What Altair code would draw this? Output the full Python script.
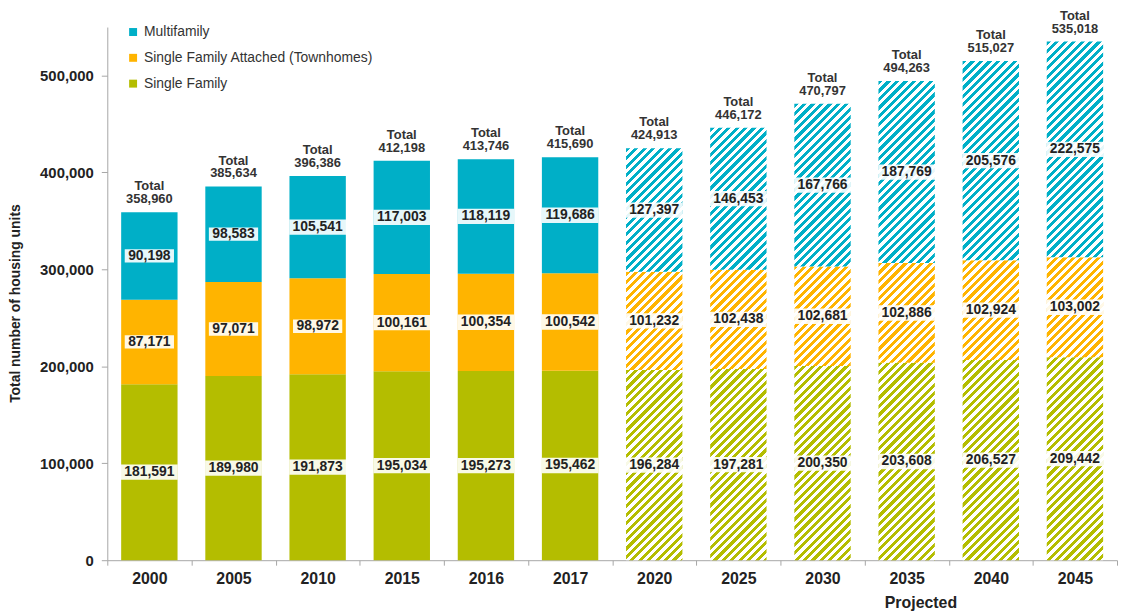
import math
import altair as alt
import pandas as pd

# ---------------- data ----------------
years = ['2000', '2005', '2010', '2015', '2016', '2017',
         '2020', '2025', '2030', '2035', '2040', '2045']
single_family = [181591, 189980, 191873, 195034, 195273, 195462,
                 196284, 197281, 200350, 203608, 206527, 209442]
townhomes = [87171, 97071, 98972, 100161, 100354, 100542,
             101232, 102438, 102681, 102886, 102924, 103002]
multifamily = [90198, 98583, 105541, 117003, 118119, 119686,
               127397, 146453, 167766, 187769, 205576, 222575]
totals = [358960, 385634, 396386, 412198, 413746, 415690,
          424913, 446172, 470797, 494263, 515027, 535018]
projected_years = ['2020', '2025', '2030', '2035', '2040', '2045']

series_names = ['Multifamily', 'Single Family Attached (Townhomes)', 'Single Family']
series_colors = ['#00AFC7', '#FFB400', '#B4BD00']
y_ticks = [0, 100000, 200000, 300000, 400000, 500000]

# ---------------- layout / style ----------------
W, H = 1017, 537
YMAX = 550000
BAND = 0.67
FONT = 'Liberation Sans'
bar_w = W / len(years) * BAND

series_values = {
    'Single Family': single_family,
    'Single Family Attached (Townhomes)': townhomes,
    'Multifamily': multifamily,
}
stack_order = {'Single Family': 0, 'Single Family Attached (Townhomes)': 1, 'Multifamily': 2}
color_of = dict(zip(series_names, series_colors))

rows = []
for i, yr in enumerate(years):
    for name in ['Single Family', 'Single Family Attached (Townhomes)', 'Multifamily']:
        rows.append({'year': yr, 'series': name, 'value': series_values[name][i],
                     'ord': stack_order[name]})
df = pd.DataFrame(rows)

tot_df = pd.DataFrame({'year': years, 'total': totals})
tot_df['label'] = ['Total\n' + f'{t:,}' for t in totals]


def hatch(color, value, period=6.0, frac=0.5):
    """Diagonal stripe fill built as a linear gradient with hard stops."""
    w = bar_w
    h = max(value * H / YMAX, 1.0)
    k = (w + h) / (w * w + h * h)
    n = (w + h) / (math.sqrt(2) * period)
    stops = []
    i = 0
    while i < n:
        a = round(i / n, 5)
        b = round(min((i + frac) / n, 1.0), 5)
        c = round(min((i + 1) / n, 1.0), 5)
        stops += [{'offset': a, 'color': color}, {'offset': b, 'color': color},
                  {'offset': b, 'color': '#ffffff'}, {'offset': c, 'color': '#ffffff'}]
        i += 1
    return {'gradient': 'linear', 'x1': 0, 'y1': 0,
            'x2': round(w * k, 6), 'y2': round(h * k, 6), 'stops': stops}


conds = []
for i, yr in enumerate(years):
    if yr in projected_years:
        for name in series_names:
            conds.append({
                'test': f"datum.year === '{yr}' && datum.series === '{name}'",
                'value': hatch(color_of[name], series_values[name][i]),
            })

x_axis = alt.Axis(title='Projected', titleX=819, titleY=35,
                  titleAlign='center', titleBaseline='top',
                  titleFont=FONT, titleFontSize=16, titleFontWeight='bold',
                  titleColor='#222222',
                  labelAngle=0, labelFont=FONT, labelFontSize=16,
                  labelFontWeight='bold', labelColor='#222222', labelPadding=5,
                  tickBand='extent', tickSize=5, tickColor='#A6A6A6',
                  domainColor='#A6A6A6')

y_axis = alt.Axis(values=y_ticks, labelExpr="format(datum.value, ',')", grid=False,
                  title='Total number of  housing units',
                  titleFont=FONT, titleFontSize=14, titleFontWeight='bold',
                  titleColor='#222222', titleAngle=270,
                  titleX=-92, titleY=278, titleAlign='center',
                  titleBaseline='middle',
                  labelFont=FONT, labelFontSize=15, labelFontWeight='bold',
                  labelColor='#222222', labelPadding=8,
                  tickSize=6, tickColor='#A6A6A6', domainColor='#A6A6A6')

y_scale = alt.Scale(domain=[0, YMAX], nice=False)
x_scale = alt.Scale(paddingInner=0, paddingOuter=0)

fill_enc = alt.Fill('series:N',
                    scale=alt.Scale(domain=series_names, range=series_colors),
                    legend=alt.Legend(title=None, orient='none', legendX=19, legendY=-2,
                                      symbolType='square', symbolSize=64,
                                      symbolStrokeWidth=0,
                                      labelFont=FONT, labelFontSize=14,
                                      labelColor='#333333', labelOffset=4,
                                      labelLimit=0, rowPadding=12),
                    condition=conds)

bars = alt.Chart(df).mark_bar(width=alt.RelativeBandSize(band=BAND)).encode(
    x=alt.X('year:N', sort=years, scale=x_scale, axis=x_axis),
    y=alt.Y('value:Q', stack='zero', scale=y_scale, axis=y_axis),
    fill=fill_enc,
    order=alt.Order('ord:Q', sort='ascending'),
)

label_base = alt.Chart(df).transform_stack(
    stack='value', groupby=['year'], as_=['v0', 'v1'],
    sort=[alt.SortField('ord', order='ascending')]
).transform_calculate(
    mid='(datum.v0 + datum.v1) / 2',
    lab="format(datum.value, ',')",
    bs="pow(length(format(datum.value, ',')) * 7.6 + 4, 2)",
)

boxes = label_base.mark_point(
    shape='M-1,-0.27L1,-0.27L1,0.27L-1,0.27Z', filled=True,
    color='#ffffff', opacity=0.9, strokeWidth=0
).encode(
    x=alt.X('year:N', sort=years, scale=x_scale, axis=x_axis),
    y=alt.Y('mid:Q', scale=y_scale, axis=y_axis),
    size=alt.Size('bs:Q', scale=None, legend=None),
)

texts = label_base.mark_text(
    font=FONT, fontSize=14, fontWeight='bold', color='#222222'
).encode(
    x=alt.X('year:N', sort=years, scale=x_scale, axis=x_axis),
    y=alt.Y('mid:Q', scale=y_scale, axis=y_axis),
    text='lab:N',
)

tot_text = alt.Chart(tot_df).mark_text(
    font=FONT, fontSize=13, fontWeight='bold', color='#333333',
    baseline='bottom', lineBreak='\n', lineHeight=13, dy=-19
).encode(
    x=alt.X('year:N', sort=years, scale=x_scale, axis=x_axis),
    y=alt.Y('total:Q', scale=y_scale, axis=y_axis),
    text='label:N',
)

chart = alt.layer(bars, boxes, texts, tot_text).properties(
    width=W, height=H,
    autosize=alt.AutoSizeParams(type='none'),
    padding={'left': 100, 'top': 17, 'right': 2, 'bottom': 52},
).configure_view(stroke=None)

chart.save('out.html', embed_options={'renderer': 'svg', 'actions': False})
